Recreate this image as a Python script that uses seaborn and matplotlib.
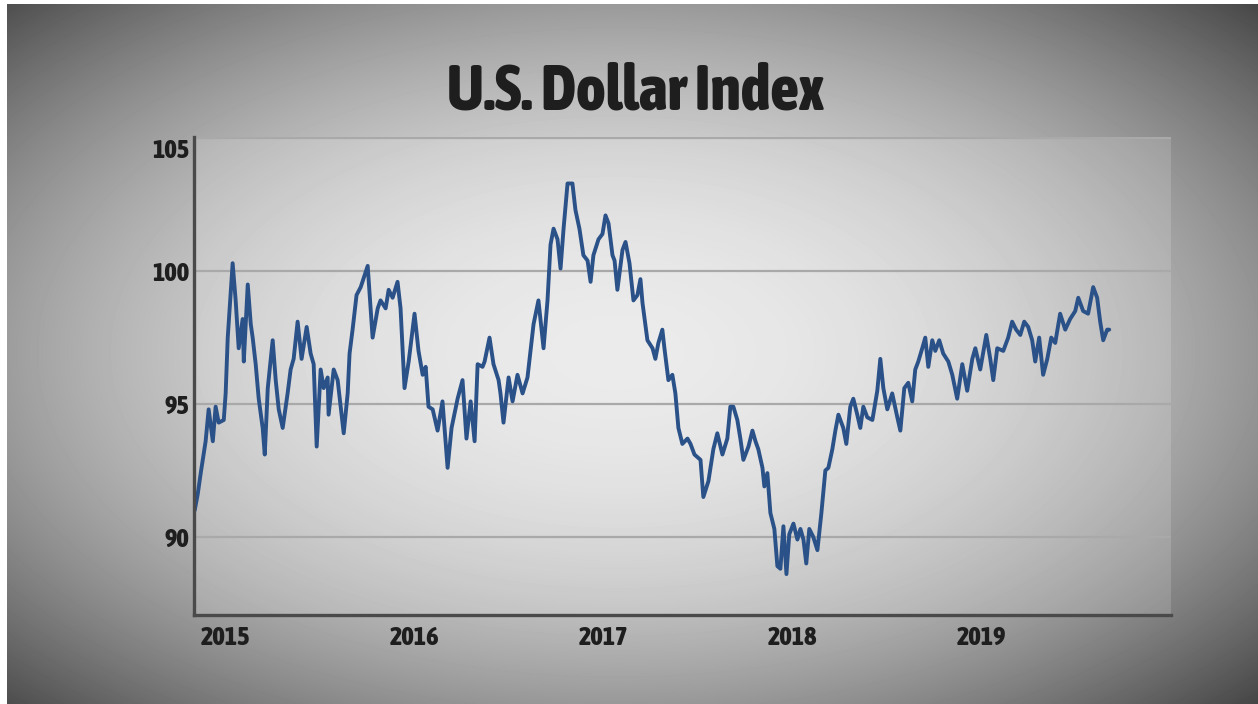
import numpy as np
import matplotlib
matplotlib.use("Agg")
import matplotlib.pyplot as plt
import matplotlib.transforms as mtransforms
from matplotlib import font_manager
import seaborn as sns

sns.set_style("white")
plt.rcParams["font.family"] = ["DejaVu Sans"]

title = "U.S. Dollar Index"
year_ticks = [2015, 2016, 2017, 2018, 2019]
year_labels = ["2015", "2016", "2017", "2018", "2019"]
value_ticks = [90, 95, 100, 105]

# index readings, decimal year -> value
years = [
    2015.005, 2015.021, 2015.037, 2015.063, 2015.079, 2015.101, 2015.116, 2015.132, 2015.159, 2015.169,
    2015.180, 2015.206, 2015.222, 2015.238, 2015.259, 2015.265, 2015.286, 2015.302, 2015.312, 2015.328,
    2015.344, 2015.365, 2015.376, 2015.392, 2015.418, 2015.434, 2015.450, 2015.471, 2015.497, 2015.513,
    2015.529, 2015.550, 2015.571, 2015.598, 2015.619, 2015.635, 2015.651, 2015.672, 2015.688, 2015.709,
    2015.714, 2015.741, 2015.762, 2015.794, 2015.815, 2015.825, 2015.841, 2015.862, 2015.884, 2015.921,
    2015.947, 2015.974, 2015.989, 2016.016, 2016.032, 2016.053, 2016.079, 2016.095, 2016.116, 2016.138,
    2016.169, 2016.190, 2016.212, 2016.228, 2016.243, 2016.265, 2016.291, 2016.317, 2016.344, 2016.365,
    2016.397, 2016.423, 2016.444, 2016.466, 2016.487, 2016.503, 2016.529, 2016.540, 2016.566, 2016.587,
    2016.614, 2016.624, 2016.640, 2016.667, 2016.688, 2016.714, 2016.741, 2016.767, 2016.778, 2016.799,
    2016.825, 2016.852, 2016.873, 2016.889, 2016.905, 2016.926, 2016.942, 2016.958, 2016.979, 2017.005,
    2017.021, 2017.042, 2017.063, 2017.085, 2017.101, 2017.116, 2017.143, 2017.164, 2017.180, 2017.196,
    2017.217, 2017.228, 2017.243, 2017.270, 2017.286, 2017.307, 2017.328, 2017.349, 2017.365, 2017.376,
    2017.402, 2017.429, 2017.444, 2017.460, 2017.481, 2017.492, 2017.513, 2017.534, 2017.550, 2017.566,
    2017.587, 2017.614, 2017.630, 2017.651, 2017.683, 2017.698, 2017.725, 2017.751, 2017.772, 2017.799,
    2017.825, 2017.841, 2017.857, 2017.878, 2017.894, 2017.910, 2017.937, 2017.958, 2017.974, 2017.989,
    2018.011, 2018.021, 2018.037, 2018.053, 2018.074, 2018.090, 2018.106, 2018.122, 2018.138, 2018.153,
    2018.175, 2018.196, 2018.212, 2018.228, 2018.243, 2018.259, 2018.280, 2018.302, 2018.323, 2018.344,
    2018.360, 2018.381, 2018.397, 2018.413, 2018.439, 2018.455, 2018.476, 2018.492, 2018.513, 2018.529,
    2018.545, 2018.566, 2018.593, 2018.619, 2018.635, 2018.651, 2018.672, 2018.698, 2018.725, 2018.741,
    2018.762, 2018.783, 2018.804, 2018.820, 2018.836, 2018.857, 2018.873, 2018.889, 2018.910, 2018.926,
    2018.947, 2018.968, 2018.995, 2019.016, 2019.042, 2019.069, 2019.095, 2019.122, 2019.138, 2019.164,
    2019.196, 2019.217, 2019.233, 2019.254, 2019.286, 2019.312, 2019.333, 2019.354, 2019.376, 2019.397,
    2019.418, 2019.439, 2019.455, 2019.476, 2019.497, 2019.519, 2019.540, 2019.561, 2019.587, 2019.614,
    2019.640, 2019.667, 2019.683, 2019.709, 2019.735, 2019.762, 2019.783, 2019.799, 2019.815, 2019.836,
    2019.847,
]
index_values = [
    91.0, 91.6, 92.4, 93.6, 94.8, 93.6, 94.9, 94.3, 94.4, 95.4,
    97.5, 100.3, 98.9, 97.1, 98.2, 96.6, 99.5, 98.0, 97.5, 96.5,
    95.2, 94.1, 93.1, 95.6, 97.4, 95.9, 94.8, 94.1, 95.4, 96.3,
    96.7, 98.1, 96.7, 97.9, 96.9, 96.5, 93.4, 96.3, 95.6, 96.0,
    94.6, 96.3, 95.9, 93.9, 95.4, 96.9, 97.8, 99.1, 99.4, 100.2,
    97.5, 98.6, 98.9, 98.6, 99.3, 99.0, 99.6, 98.6, 95.6, 96.6,
    98.4, 97.0, 96.1, 96.4, 94.9, 94.8, 94.0, 95.1, 92.6, 94.1,
    95.2, 95.9, 93.7, 95.1, 93.6, 96.5, 96.4, 96.6, 97.5, 96.5,
    95.9, 95.4, 94.3, 96.0, 95.1, 96.1, 95.4, 96.0, 96.7, 98.0,
    98.9, 97.1, 98.9, 101.0, 101.6, 101.2, 100.1, 101.6, 103.3, 103.3,
    102.3, 101.6, 100.6, 100.4, 99.6, 100.6, 101.2, 101.4, 102.1, 101.8,
    100.6, 100.4, 99.3, 100.8, 101.1, 100.3, 98.9, 99.1, 99.7, 98.8,
    97.4, 97.1, 96.7, 97.3, 97.8, 97.1, 95.9, 96.1, 95.4, 94.1,
    93.5, 93.7, 93.5, 93.1, 92.9, 91.5, 92.1, 93.3, 93.9, 93.1,
    93.7, 94.9, 94.9, 94.4, 93.7, 92.9, 93.4, 94.0, 93.6, 93.3,
    92.6, 91.9, 92.4, 90.9, 90.3, 88.9, 88.8, 90.4, 88.6, 90.1,
    90.5, 89.9, 90.3, 89.9, 89.0, 90.3, 90.0, 89.5, 90.9, 92.5,
    92.6, 93.3, 94.0, 94.6, 94.1, 93.5, 94.9, 95.2, 94.6, 94.1,
    94.9, 94.5, 94.4, 95.5, 96.7, 95.6, 94.8, 95.4, 94.5, 94.0,
    95.6, 95.8, 95.1, 96.3, 96.6, 97.1, 97.5, 96.4, 97.4, 97.0,
    97.4, 96.9, 96.6, 96.1, 95.2, 96.5, 95.5, 96.7, 97.1, 96.3,
    97.6, 96.7, 95.9, 97.1, 97.0, 97.5, 98.1, 97.8, 97.6, 98.1,
    97.9, 97.4, 96.6, 97.5, 96.1, 96.7, 97.5, 97.3, 98.4, 97.8,
    98.2, 98.5, 99.0, 98.5, 98.4, 99.4, 99.0, 98.1, 97.4, 97.8,
    97.8,
]


def find_narrow_bold():
    # look for a heavy, condensed sans face among the installed fonts
    stretch_rank = {"condensed": 0, "extra-condensed": 1, "ultra-condensed": 2, "semi-condensed": 2}
    best = None
    for f in font_manager.fontManager.ttflist:
        w = f.weight
        if isinstance(w, str):
            w = font_manager.weight_dict.get(w, 400)
        st = str(f.stretch)
        rank = stretch_rank.get(st)
        if rank is None and ("Narrow" in f.name or "Condensed" in f.name):
            rank = 0
        if rank is None or w < 700 or "Mono" in f.name or "Serif" in f.name:
            continue
        key = (rank, abs(w - 800))
        if best is None or key < best[0]:
            best = (key, f.fname)
    if best is None:
        return font_manager.FontProperties(family="DejaVu Sans", weight="bold")
    return font_manager.FontProperties(fname=best[1])


narrow = find_narrow_bold()

fig = plt.figure(figsize=(12.58, 7.04), dpi=100)

# darkened-corner backdrop, like a photo of a screen
bg = fig.add_axes([0, 0, 1, 1], zorder=0)
h, w = 704, 1258
yy, xx = np.mgrid[0:h, 0:w]
r = np.sqrt(((xx - w * 0.49) / (w * 0.5)) ** 2 + ((yy - h * 0.50) / (h * 0.5)) ** 2)
shade = np.clip(232 - 80 * r ** 2.0, 60, 255) / 255
shade[:, :7] = 1.0
shade[:4, :] = 1.0
bg.imshow(shade, cmap="gray", vmin=0, vmax=1, aspect="auto", interpolation="bilinear")
bg.axis("off")

ax = fig.add_axes([0.154, 0.1264, 0.777, 0.679], zorder=1)
ax.set_facecolor((1, 1, 1, 0.15))

sns.lineplot(x=years, y=index_values, ax=ax, color="#2b5189", linewidth=2.8)

ax.set_xlim(2015.005, 2020.175)
ax.set_ylim(87.06, 105.05)

ax.grid(axis="y", color="#a9a9a9", linewidth=1.6)
ax.grid(axis="x", visible=False)
ax.set_axisbelow(True)
for side in ["top", "right"]:
    ax.spines[side].set_visible(False)
for side in ["left", "bottom"]:
    ax.spines[side].set_color("#4a4a4a")
    ax.spines[side].set_linewidth(2.4)
ax.tick_params(axis="both", length=0, colors="#1e1e1e")
ax.tick_params(axis="x", pad=7)
ax.tick_params(axis="y", pad=3)
ax.set_xlabel("")
ax.set_ylabel("")

ax.set_yticks(value_ticks)
ax.set_yticklabels([str(v) for v in value_ticks])
ax.set_xticks(year_ticks)
ax.set_xticklabels(year_labels, ha="left")
offset = mtransforms.ScaledTranslation(5 / 72, 0, fig.dpi_scale_trans)
for lbl in ax.get_xticklabels():
    lbl.set_transform(lbl.get_transform() + offset)
for lbl in ax.get_xticklabels() + ax.get_yticklabels():
    lbl.set_fontproperties(narrow)
    lbl.set_fontsize(19)
ax.get_yticklabels()[-1].set_va("top")

fig.text(0.505, 0.869, title, ha="center", va="center", fontproperties=narrow,
         fontsize=45, color="#1e1e1e")

fig.savefig("out.png", dpi=100)
